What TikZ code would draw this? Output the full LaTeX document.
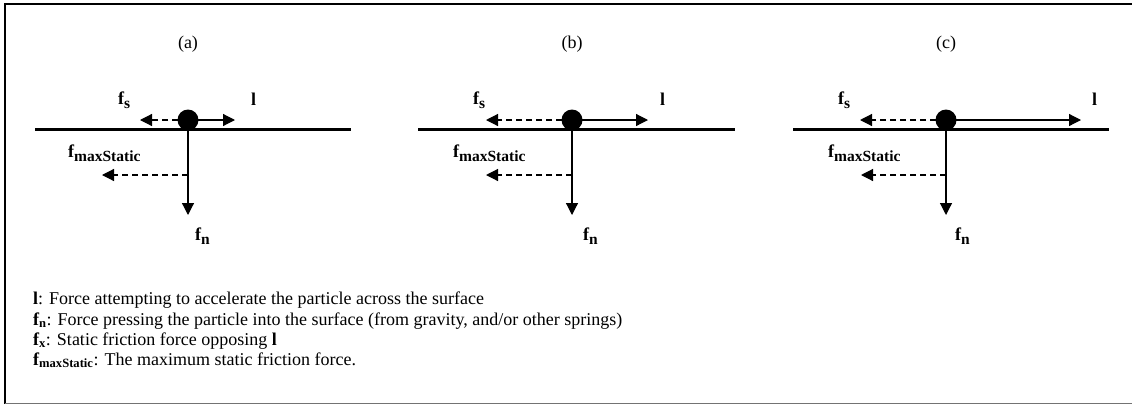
\documentclass[tikz,border=0pt]{standalone}
\usepackage{fontspec}
\setmainfont{Liberation Serif}
\usepackage{tikz}
\usetikzlibrary{arrows.meta,positioning}
\newcommand{\fv}[1]{\textbf{f\textsubscript{#1}}}
\newcommand{\fl}[1]{f\raisebox{-4pt}{\fontsize{15.5}{16}\selectfont #1}}

\begin{document}
\begin{tikzpicture}[x=1pt,y=-1pt,font=\fontsize{18}{20}\selectfont,
  ball/.style={circle,fill,inner sep=0pt,minimum size=21pt},
  surf/.style={line width=3pt},
  force/.style={-{Triangle[length=12pt,width=12pt]},line width=1.2pt},
  fric/.style={force,dash pattern=on 6pt off 4pt},
  lab/.style={font=\fontsize{18}{20}\selectfont\bfseries,inner sep=0pt,anchor=base west},
  key/.style={anchor=base west,inner sep=0pt}]
\useasboundingbox (0,0) rectangle (1132,405);
% --- frame ---
\draw[line width=1.5pt] (1132,4) -- (5,4) -- (5,404);
\draw[line width=1pt,black!55] (5,403.5) -- (1132,403.5);
% --- panel (a) ---
\node (ta) at (188,44) {(a)};
\draw[surf] (35,129) -- (351,129);
\coordinate (pa) at (188,120);
\coordinate (la) at (235,120);\coordinate (sa) at (140,120);
\coordinate (na) at (188,215);\coordinate (ma) at (188,175);\coordinate (ka) at (102,175);
\draw[force] (pa) -- (la);\draw[fric] (pa) -- (sa);
\draw[force] (pa) -- (na);\draw[fric] (ma) -- (ka);
\node[ball] (ba) at (pa) {};
\node[lab] (fsa) at (118,104) {\fl{s}};
\node[lab] (fla) at (251,105) {l};
\node[lab] (fma) at (68,157) {\fl{maxStatic}};
\node[lab] (fna) at (195,240) {\fl{n}};
% --- panel (b) ---
\node (tb) at (572,44) {(b)};
\draw[surf] (418,129) -- (735,129);
\coordinate (pb) at (572,120);
\coordinate (lb) at (648,120);\coordinate (sb) at (486,120);
\coordinate (nb) at (572,215);\coordinate (mb) at (572,175);\coordinate (kb) at (486,175);
\draw[force] (pb) -- (lb);\draw[fric] (pb) -- (sb);
\draw[force] (pb) -- (nb);\draw[fric] (mb) -- (kb);
\node[ball] (bb) at (pb) {};
\node[lab] (fsb) at (473,104) {\fl{s}};
\node[lab] (flb) at (660,105) {l};
\node[lab] (fmb) at (453,157) {\fl{maxStatic}};
\node[lab] (fnb) at (583,240) {\fl{n}};
% --- panel (c) ---
\node (tc) at (946,44) {(c)};
\draw[surf] (793,129) -- (1109,129);
\coordinate (pc) at (946,120);
\coordinate (lc) at (1081,120);\coordinate (sc) at (860,120);
\coordinate (nc) at (946,215);\coordinate (mc) at (946,175);\coordinate (kc) at (861,175);
\draw[force] (pc) -- (lc);\draw[fric] (pc) -- (sc);
\draw[force] (pc) -- (nc);\draw[fric] (mc) -- (kc);
\node[ball] (bc) at (pc) {};
\node[lab] (fsc) at (838,104) {\fl{s}};
\node[lab] (flc) at (1092,105) {l};
\node[lab] (fmc) at (828,157) {\fl{maxStatic}};
\node[lab] (fnc) at (955,240) {\fl{n}};
% --- legend ---
\node[key] (k1) at (33,304) {\textbf{l}: Force attempting to accelerate the particle across the surface};
\node[key] (k2) at (33,325) {\fv{n}: Force pressing the particle into the surface (from gravity, and/or other springs)};
\node[key] (k3) at (33,345) {\fv{x}: Static friction force opposing \textbf{l}};
\node[key] (k4) at (33,365) {\fv{maxStatic}: The maximum static friction force.};
\end{tikzpicture}
\end{document}
